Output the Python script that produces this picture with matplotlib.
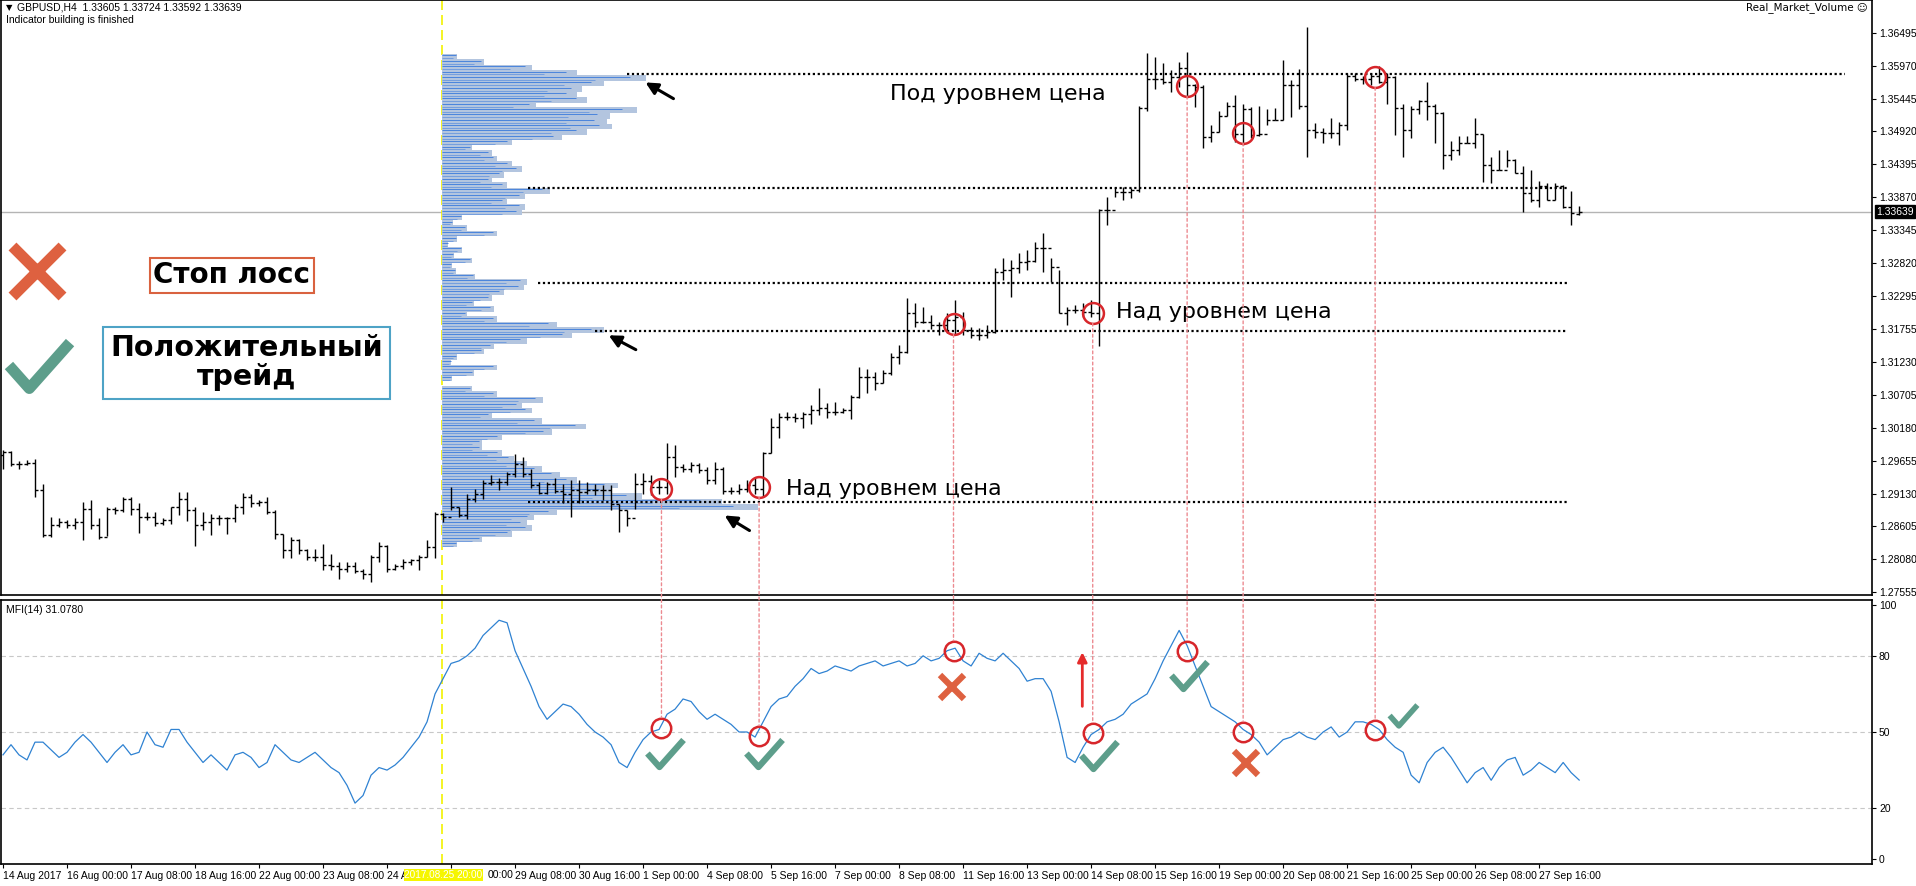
import matplotlib
matplotlib.use("Agg")
import matplotlib.pyplot as plt
from matplotlib.patches import ConnectionPatch
from matplotlib.path import Path
import numpy as np

plt.rcParams['font.family'] = ['DejaVu Sans']

# ---- GBPUSD H4 bars (bar index 4 .. 201) ----
first_bar = 4
highs = [
    1.2982, 1.2981, 1.2965, 1.2967, 1.2969, 1.2929, 1.2876, 1.2874, 1.2871, 1.2874,
    1.2900, 1.2902, 1.2874, 1.2892, 1.2892, 1.2907, 1.2907, 1.2898, 1.2884, 1.2883,
    1.2874, 1.2892, 1.2916, 1.2916, 1.2892, 1.2883, 1.2880, 1.2879, 1.2876, 1.2897,
    1.2914, 1.2912, 1.2902, 1.2907, 1.2887, 1.2849, 1.2844, 1.2840, 1.2825, 1.2825,
    1.2832, 1.2817, 1.2803, 1.2803, 1.2803, 1.2793, 1.2815, 1.2836, 1.2831, 1.2801,
    1.2809, 1.2809, 1.2815, 1.2838, 1.2884, 1.2882, 1.2924, 1.2892, 1.2913, 1.2921,
    1.2935, 1.2943, 1.2938, 1.2947, 1.2977, 1.2972, 1.2953, 1.2931, 1.2931, 1.2938,
    1.2929, 1.2934, 1.2935, 1.2931, 1.2928, 1.2926, 1.2926, 1.2897, 1.2887, 1.2946,
    1.2946, 1.2943, 1.2934, 1.2994, 1.2990, 1.2961, 1.2964, 1.2962, 1.2956, 1.2964,
    1.2956, 1.2924, 1.2929, 1.2934, 1.2938, 1.2980, 1.3033, 1.3041, 1.3044, 1.3041,
    1.3044, 1.3054, 1.3081, 1.3057, 1.3059, 1.3049, 1.3071, 1.3115, 1.3112, 1.3107,
    1.3110, 1.3137, 1.3150, 1.3225, 1.3217, 1.3212, 1.3198, 1.3188, 1.3201, 1.3222,
    1.3204, 1.3180, 1.3177, 1.3183, 1.3273, 1.3289, 1.3286, 1.3297, 1.3302, 1.3315,
    1.3329, 1.3289, 1.3270, 1.3212, 1.3214, 1.3217, 1.3222, 1.3368, 1.3388, 1.3404,
    1.3404, 1.3401, 1.3533, 1.3617, 1.3611, 1.3601, 1.3590, 1.3603, 1.3619, 1.3568,
    1.3566, 1.3502, 1.3525, 1.3539, 1.3551, 1.3536, 1.3531, 1.3532, 1.3528, 1.3530,
    1.3607, 1.3575, 1.3592, 1.3659, 1.3506, 1.3497, 1.3514, 1.3507, 1.3585, 1.3586,
    1.3581, 1.3585, 1.3596, 1.3585, 1.3581, 1.3536, 1.3532, 1.3542, 1.3571, 1.3536,
    1.3523, 1.3477, 1.3485, 1.3485, 1.3514, 1.3488, 1.3451, 1.3463, 1.3462, 1.3448,
    1.3437, 1.3430, 1.3413, 1.3410, 1.3409, 1.3406, 1.3397, 1.33724,
]
lows = [
    1.2953, 1.2957, 1.2952, 1.2959, 1.2907, 1.2844, 1.2844, 1.2860, 1.2858, 1.2857,
    1.2838, 1.2857, 1.2841, 1.2845, 1.2881, 1.2884, 1.2879, 1.2850, 1.2871, 1.2861,
    1.2862, 1.2865, 1.2879, 1.2869, 1.2829, 1.2854, 1.2847, 1.2862, 1.2849, 1.2867,
    1.2880, 1.2892, 1.2893, 1.2880, 1.2840, 1.2810, 1.2810, 1.2817, 1.2806, 1.2805,
    1.2790, 1.2790, 1.2777, 1.2788, 1.2786, 1.2777, 1.2772, 1.2803, 1.2788, 1.2791,
    1.2793, 1.2798, 1.2790, 1.2812, 1.2810, 1.2868, 1.2887, 1.2875, 1.2872, 1.2900,
    1.2905, 1.2926, 1.2919, 1.2926, 1.2940, 1.2940, 1.2922, 1.2913, 1.2913, 1.2914,
    1.2898, 1.2876, 1.2898, 1.2913, 1.2910, 1.2902, 1.2887, 1.2851, 1.2861, 1.2888,
    1.2913, 1.2910, 1.2913, 1.2913, 1.2940, 1.2948, 1.2948, 1.2946, 1.2928, 1.2928,
    1.2913, 1.2913, 1.2913, 1.2916, 1.2913, 1.2908, 1.2978, 1.3002, 1.3031, 1.3028,
    1.3017, 1.3024, 1.3038, 1.3033, 1.3038, 1.3041, 1.3032, 1.3065, 1.3074, 1.3078,
    1.3089, 1.3102, 1.3120, 1.3137, 1.3180, 1.3185, 1.3176, 1.3166, 1.3169, 1.3166,
    1.3166, 1.3161, 1.3159, 1.3162, 1.3169, 1.3255, 1.3227, 1.3265, 1.3270, 1.3283,
    1.3268, 1.3252, 1.3201, 1.3183, 1.3201, 1.3196, 1.3196, 1.3149, 1.3342, 1.3388,
    1.3382, 1.3385, 1.3396, 1.3524, 1.3560, 1.3568, 1.3555, 1.3563, 1.3547, 1.3531,
    1.3465, 1.3475, 1.3491, 1.3517, 1.3475, 1.3470, 1.3481, 1.3484, 1.3502, 1.3510,
    1.3510, 1.3515, 1.3528, 1.3452, 1.3482, 1.3473, 1.3481, 1.3470, 1.3494, 1.3573,
    1.3568, 1.3566, 1.3569, 1.3536, 1.3486, 1.3451, 1.3482, 1.3520, 1.3510, 1.3474,
    1.3432, 1.3447, 1.3455, 1.3473, 1.3465, 1.3412, 1.3409, 1.3430, 1.3435, 1.3426,
    1.3363, 1.3379, 1.3372, 1.3382, 1.3382, 1.3370, 1.3342, 1.33592,
]
closes = [
    1.2980, 1.2961, 1.2961, 1.2962, 1.2918, 1.2846, 1.2862, 1.2867, 1.2862, 1.2867,
    1.2889, 1.2862, 1.2844, 1.2889, 1.2886, 1.2905, 1.2888, 1.2876, 1.2876, 1.2866,
    1.2871, 1.2891, 1.2904, 1.2887, 1.2862, 1.2867, 1.2874, 1.2874, 1.2874, 1.2892,
    1.2907, 1.2898, 1.2900, 1.2883, 1.2849, 1.2823, 1.2838, 1.2823, 1.2811, 1.2812,
    1.2798, 1.2797, 1.2793, 1.2797, 1.2789, 1.2785, 1.2812, 1.2829, 1.2793, 1.2797,
    1.2803, 1.2806, 1.2812, 1.2828, 1.2881, 1.2875, 1.2892, 1.2879, 1.2905, 1.2913,
    1.2930, 1.2931, 1.2931, 1.2944, 1.2960, 1.2944, 1.2926, 1.2914, 1.2928, 1.2917,
    1.2913, 1.2918, 1.2916, 1.2919, 1.2919, 1.2918, 1.2897, 1.2887, 1.2874, 1.2928,
    1.2933, 1.2924, 1.2924, 1.2972, 1.2956, 1.2952, 1.2959, 1.2951, 1.2935, 1.2953,
    1.2917, 1.2917, 1.2921, 1.2926, 1.2921, 1.2978, 1.3020, 1.3036, 1.3036, 1.3033,
    1.3040, 1.3046, 1.3049, 1.3044, 1.3044, 1.3046, 1.3068, 1.3099, 1.3099, 1.3090,
    1.3105, 1.3131, 1.3140, 1.3201, 1.3188, 1.3188, 1.3183, 1.3183, 1.3191, 1.3196,
    1.3174, 1.3166, 1.3166, 1.3171, 1.3268, 1.3270, 1.3273, 1.3283, 1.3285, 1.3306,
    1.3306, 1.3275, 1.3201, 1.3206, 1.3206, 1.3204, 1.3201, 1.3366, 1.3366, 1.3396,
    1.3396, 1.3398, 1.3529, 1.3576, 1.3576, 1.3571, 1.3579, 1.3593, 1.3566, 1.3563,
    1.3483, 1.3491, 1.3517, 1.3533, 1.3488, 1.3528, 1.3486, 1.3488, 1.3511, 1.3511,
    1.3566, 1.3566, 1.3533, 1.3494, 1.3491, 1.3489, 1.3489, 1.3502, 1.3580, 1.3576,
    1.3576, 1.3580, 1.3571, 1.3579, 1.3530, 1.3495, 1.3528, 1.3541, 1.3533, 1.3521,
    1.3455, 1.3462, 1.3473, 1.3474, 1.3488, 1.3438, 1.3431, 1.3431, 1.3446, 1.3426,
    1.3393, 1.3383, 1.3405, 1.3383, 1.3405, 1.3371, 1.3361, 1.33639,
]
first_open = 1.2975
last_open = 1.33605

# MFI(14) per bar
mfi = [
    41, 45, 41, 39, 46, 46, 43, 40, 42, 46,
    49, 46, 42, 38, 42, 45, 41, 42, 50, 45,
    44, 51, 51, 46, 42, 38, 41, 38, 35, 41,
    42, 40, 36, 38, 45, 42, 39, 38, 40, 42,
    39, 36, 34, 29, 22, 25, 33, 36, 35, 37,
    40, 44, 48, 54, 65, 71, 77, 78, 80, 83,
    88, 91, 94, 93, 82, 75, 68, 60, 55, 58,
    61, 60, 57, 53, 50, 48, 45, 38, 36, 42,
    47, 50, 51, 57, 59, 63, 62, 58, 55, 57,
    55, 53, 50, 50, 48, 54, 60, 63, 64, 68,
    71, 75, 73, 74, 76, 75, 74, 76, 77, 78,
    76, 77, 78, 76, 77, 80, 78, 79, 82, 83,
    78, 76, 81, 79, 78, 81, 78, 75, 70, 71,
    71, 66, 54, 40, 38, 44, 49, 51, 54, 55,
    57, 61, 63, 65, 71, 78, 84, 90, 84, 76,
    68, 60, 58, 56, 54, 51, 49, 46, 41, 44,
    47, 48, 50, 48, 47, 50, 52, 48, 50, 54,
    54, 53, 51, 47, 44, 42, 33, 30, 38, 42,
    44, 40, 35, 30, 34, 36, 31, 36, 39, 40,
    33, 35, 38, 36, 34, 38, 34, 31.078,
]

# volume profile (from 2017.08.25 20:00), top price level downwards
profile_start_bar = 58.9
profile_top = 1.36115
profile_step = 0.000857
profile_volume = [
    15, 42, 90, 135, 204, 162, 140, 135, 145, 94,
    195, 168, 165, 170, 145, 120, 70, 30, 50, 55,
    70, 80, 62, 50, 65, 108, 83, 65, 83, 80,
    20, 11, 25, 55, 15, 6, 20, 12, 30, 10,
    14, 33, 85, 82, 62, 50, 32, 52, 25, 55,
    115, 162, 130, 85, 52, 42, 15, 9, 55, 32,
    10, 0, 30, 55, 101, 80, 90, 50, 100, 144,
    110, 60, 40, 40, 60, 72, 85, 100, 118, 135,
    176, 170, 200, 280, 316, 115, 92, 85, 90, 70,
    40, 15,
]

# horizontal levels: price, start bar, end bar
level_price = [1.3584, 1.3402, 1.3250, 1.3173, 1.2899]
level_start = [82.0, 69.6, 70.9, 78.0, 69.6]
level_end = [234.2, 199.5, 199.5, 199.5, 199.5]

# signals: bar, price at circle, MFI at circle
signal_bar = [86.3, 98.5, 122.8, 140.2, 152.0, 159.0, 175.5]
signal_price = [1.2920, 1.2924, 1.3184, 1.3202, 1.3565, 1.3490, 1.3579]
signal_mfi = [51.6, 48.4, 81.9, 49.6, 81.9, 50.0, 50.8]
win_bar = [86.75, 99.1, 141.0, 152.25]
win_mfi = [41.7, 41.7, 40.9, 72.4]
loss_bar = [122.6, 159.4]
loss_mfi = [67.7, 37.8]

price_ticks = [1.36495, 1.35970, 1.35445, 1.34920, 1.34395, 1.33870, 1.33345,
               1.32820, 1.32295, 1.31755, 1.31230, 1.30705, 1.30180, 1.29655,
               1.29130, 1.28605, 1.28080, 1.27555]
time_ticks = [4, 12, 20, 28, 36, 44, 52, 60, 68, 76, 84, 92, 100, 108, 116,
              124, 132, 140, 148, 156, 164, 172, 180, 188, 196]
# the two labels under the yellow cursor box are only partly visible
time_labels = ["14 Aug 2017", "16 Aug 00:00", "17 Aug 08:00", "18 Aug 16:00",
               "22 Aug 00:00", "23 Aug 08:00", "24 A", "",
               "29 Aug 08:00", "30 Aug 16:00", "1 Sep 00:00", "4 Sep 08:00",
               "5 Sep 16:00", "7 Sep 00:00", "8 Sep 08:00", "11 Sep 16:00",
               "13 Sep 00:00", "14 Sep 08:00", "15 Sep 16:00", "19 Sep 00:00",
               "20 Sep 08:00", "21 Sep 16:00", "25 Sep 00:00", "26 Sep 08:00",
               "27 Sep 16:00"]

RED = '#d7262b'
GREEN = '#5d9e8b'
ORANGE = '#de6140'

W, H = 1916, 886
fig = plt.figure(figsize=(W / 100, H / 100), dpi=100)
ax1 = fig.add_axes([1 / W, 1 - 595 / H, 1871 / W, 595 / H])
ax2 = fig.add_axes([1 / W, 1 - 864 / H, 1871 / W, 264 / H])

x = np.arange(first_bar, first_bar + len(closes))
opens = [first_open] + closes[:-2] + [last_open]

# volume profile
levels = profile_top - profile_step * np.arange(len(profile_volume))
widths = np.array(profile_volume) / 8.0
ax1.barh(levels, widths, height=profile_step * 1.08, left=profile_start_bar,
         color='#b3c5df', linewidth=0, antialiased=False, zorder=1)
ax1.hlines(levels + profile_step * 0.25, profile_start_bar, profile_start_bar + widths * 0.92,
           color='#4a84dc', lw=0.7, zorder=1.5)
ax1.hlines(levels - profile_step * 0.3, profile_start_bar, profile_start_bar + widths * 0.75,
           color='#6b98de', lw=0.6, zorder=1.5)

# OHLC bars
ax1.vlines(x, lows, highs, color='black', lw=1.0, zorder=3)
ax1.hlines(opens, x - 0.4, x, color='black', lw=1.0, zorder=3)
ax1.hlines(closes, x, x + 0.4, color='black', lw=1.0, zorder=3)

# levels
for p, s, e in zip(level_price, level_start, level_end):
    ax1.plot([s, e], [p, p], color='black', lw=1.6, ls=(0, (1, 1.2)), zorder=2)

# current price line
ax1.axhline(closes[-1], color='#b4b4b4', lw=1.0, zorder=0.5)

# yellow cursor line
for ax in (ax1, ax2):
    ax.axvline(profile_start_bar, color='#f2f200', lw=1.2, ls=(0, (6, 3)), zorder=0.8)

# MFI
ax2.plot(x, mfi, color='#2f82d2', lw=0.9, zorder=2)
for lvl in (80, 50, 20):
    ax2.axhline(lvl, color='#c8c8c8', lw=0.8, ls=(0, (4, 3)), zorder=0.5)

# circles
ax1.plot(signal_bar, signal_price, 'o', ms=15, mfc='none', mec=RED, mew=1.8, zorder=5)
ax2.plot(signal_bar, signal_mfi, 'o', ms=14, mfc='none', mec=RED, mew=1.8, zorder=5)
for b, p, m in zip(signal_bar, signal_price, signal_mfi):
    con = ConnectionPatch(xyA=(b, p), coordsA=ax1.transData, xyB=(b, m), coordsB=ax2.transData,
                          color='#ec8a90', lw=1.0, ls=(0, (2, 2)), shrinkA=7.5, shrinkB=7.5, zorder=4)
    fig.add_artist(con)

check = Path([(-0.6, 0.0), (-0.2, -0.45), (0.6, 0.45)],
             [Path.MOVETO, Path.LINETO, Path.LINETO])
ax2.plot(win_bar, win_mfi, ls='none', marker=check, ms=26, mfc='none', mec=GREEN, mew=4.5, zorder=6)
ax2.plot([179.0], [56.7], ls='none', marker=check, ms=20, mfc='none', mec=GREEN, mew=4, zorder=6)
ax2.plot(loss_bar, loss_mfi, ls='none', marker='x', ms=17, mec=ORANGE, mew=4.5, zorder=6)
ax2.annotate('', xy=(138.9, 82.5), xytext=(138.9, 59),
             arrowprops=dict(arrowstyle='-|>', color='#e52b2b', lw=2, mutation_scale=14))

# legend on the left
ax1.plot([8.25], [1.32689], ls='none', marker='x', ms=36, mec=ORANGE, mew=8, zorder=6)
ax1.plot([8.5], [1.3118], ls='none', marker=check, ms=44, mfc='none', mec=GREEN, mew=8, zorder=6)
ax1.text(32.6, 1.3262, 'Стоп лосс', ha='center', va='center', fontsize=20, fontweight='bold',
         bbox=dict(boxstyle='square,pad=0.12', fc='white', ec='#d9623f', lw=1.5), zorder=6)
ax1.text(34.4, 1.3122, 'Положительный\nтрейд', ha='center', va='center', fontsize=20.5,
         fontweight='bold', linespacing=1.05,
         bbox=dict(boxstyle='square,pad=0.25', fc='white', ec='#4ea3c6', lw=1.5), zorder=6)

# arrows to the volume peaks
for head, tail in [((84.0, 1.35727), (88.1, 1.35423)),
                   ((79.4, 1.31681), (83.4, 1.3141)),
                   ((93.9, 1.28802), (97.6, 1.28515))]:
    ax1.annotate('', xy=head, xytext=tail,
                 arrowprops=dict(arrowstyle='-|>', color='black', lw=2.2, mutation_scale=18), zorder=6)

ax1.text(114.9, 1.3552, 'Под уровнем цена', fontsize=16, va='center', zorder=6)
ax1.text(143.1, 1.32033, 'Над уровнем цена', fontsize=16, va='center', zorder=6)
ax1.text(101.9, 1.29202, 'Над уровнем цена', fontsize=16, va='center', zorder=6)

# axes styling
ax1.set_xlim(3.75, 237.6)
ax2.set_xlim(3.75, 237.6)
ax1.set_ylim(1.27507, 1.37023)
ax2.set_ylim(-1.97, 101.97)
for ax in (ax1, ax2):
    ax.yaxis.tick_right()
    ax.tick_params(axis='y', direction='out', length=3, width=0.8, pad=2, labelsize=7.5)
    for sp in ax.spines.values():
        sp.set_linewidth(1.2)
ax1.set_yticks(price_ticks)
ax1.set_yticklabels([f'{t:.5f}' for t in price_ticks], family='Liberation Sans')
ax1.set_xticks([])
ax2.set_yticks([0, 20, 50, 80, 100])
ax2.set_yticklabels(['0', '20', '50', '80', '100'], family='Liberation Sans')
ax2.set_xticks(time_ticks)
ax2.set_xticklabels(time_labels, ha='left', family='Liberation Sans', fontsize=7.5)
ax2.tick_params(axis='x', direction='out', length=3, width=0.8, pad=2)

ax1.annotate(f'{closes[-1]:.5f}', xy=(1, closes[-1]), xycoords=('axes fraction', 'data'),
             xytext=(3, 0), textcoords='offset points', ha='left', va='center',
             fontsize=7.5, family='Liberation Sans', color='white',
             bbox=dict(boxstyle='square,pad=0.15', fc='black', ec='black'), zorder=10,
             annotation_clip=False)
ax2.annotate('2017.08.25 20:00', xy=(profile_start_bar + 0.15, 0), xycoords=('data', 'axes fraction'),
             xytext=(0, -8), textcoords='offset points', ha='center', va='center',
             fontsize=7.2, family='Liberation Sans', color='white',
             bbox=dict(boxstyle='square,pad=0.08', fc='#f6f600', ec='none'), zorder=10,
             annotation_clip=False)
# visible tail of the "28 Aug 00:00" label, right of the yellow box
ax2.annotate('00:00', xy=(64.6, 0), xycoords=('data', 'axes fraction'),
             xytext=(0, -8), textcoords='offset points', ha='left', va='center',
             fontsize=7.5, family='Liberation Sans', annotation_clip=False)

fig.text(6 / W, 1 - 8 / H, '▼', fontsize=6, va='center')
fig.text(17 / W, 1 - 8 / H, 'GBPUSD,H4  1.33605 1.33724 1.33592 1.33639', fontsize=7.5,
         va='center', family='Liberation Sans')
fig.text(6 / W, 1 - 20 / H, 'Indicator building is finished', fontsize=7.5, va='center',
         family='Liberation Sans')
fig.text(1868 / W, 1 - 8 / H, 'Real_Market_Volume ☺', fontsize=7.5, va='center', ha='right')
fig.text(6 / W, 1 - 610 / H, 'MFI(14) 31.0780', fontsize=7.5, va='center', family='Liberation Sans')

fig.savefig('out.png', dpi=100, facecolor='white')
